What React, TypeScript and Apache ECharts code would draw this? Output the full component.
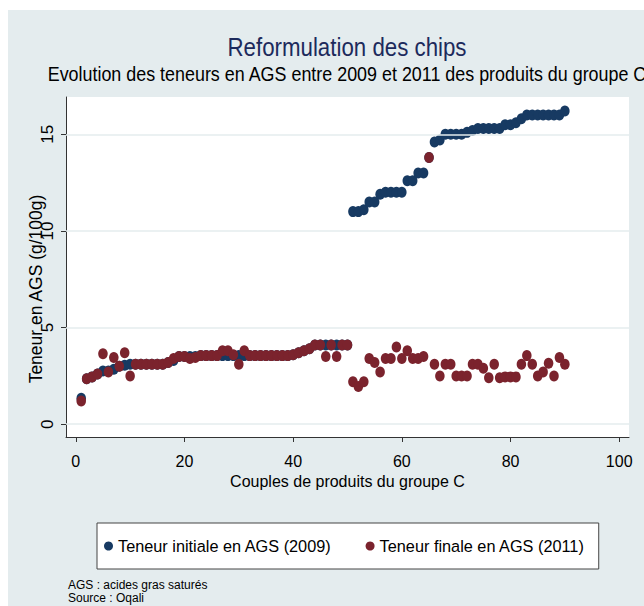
import React, { useEffect, useRef } from "react";
import * as echarts from "echarts";

const chartTitle = "Reformulation des chips";
const chartSubtitle = "Evolution des teneurs en AGS entre 2009 et 2011 des produits du groupe C";
const xAxisTitle = "Couples de produits du groupe C";
const yAxisTitle = "Teneur en AGS (g/100g)";
const footnotes = ["AGS : acides gras saturés", "Source : Oqali"];
const seriesNames = ["Teneur initiale en AGS (2009)", "Teneur finale en AGS (2011)"];

const xTicks = [0, 20, 40, 60, 80, 100];
const yTicks = [0, 5, 10, 15];

// Teneur initiale (2009), couples 1..90
const initial2009 = [
  1.35, 2.35, 2.45, 2.6, 2.75, 2.75, 2.85, 3.0, 3.05, 3.1,
  3.1, 3.1, 3.1, 3.1, 3.1, 3.1, 3.2, 3.3, 3.5, 3.5,
  3.5, 3.5, 3.55, 3.55, 3.55, 3.55, 3.55, 3.55, 3.55, 3.55,
  3.55, 3.55, 3.55, 3.55, 3.55, 3.55, 3.55, 3.55, 3.55, 3.6,
  3.7, 3.8, 3.9, 4.1, 4.1, 4.1, 4.1, 4.1, 4.1, 4.1,
  11.0, 11.0, 11.1, 11.5, 11.5, 11.9, 12.0, 12.0, 12.0, 12.0,
  12.6, 12.6, 13.0, 13.0, 13.8, 14.6, 14.7, 15.0, 15.0, 15.0,
  15.0, 15.1, 15.2, 15.3, 15.3, 15.3, 15.3, 15.3, 15.5, 15.5,
  15.6, 15.8, 16.0, 16.0, 16.0, 16.0, 16.0, 16.0, 16.0, 16.2,
];

// Teneur finale (2011), couples 1..90
const final2011 = [
  1.2, 2.35, 2.45, 2.6, 3.65, 2.7, 3.45, 3.0, 3.7, 2.5,
  3.1, 3.1, 3.1, 3.1, 3.1, 3.1, 3.2, 3.4, 3.5, 3.5,
  3.4, 3.45, 3.55, 3.55, 3.55, 3.55, 3.8, 3.8, 3.6, 3.1,
  3.8, 3.55, 3.55, 3.55, 3.55, 3.55, 3.55, 3.55, 3.55, 3.6,
  3.7, 3.8, 3.9, 4.1, 4.1, 3.5, 4.1, 3.5, 4.1, 4.1,
  2.2, 1.95, 2.2, 3.4, 3.2, 2.7, 3.4, 3.4, 4.0, 3.4,
  3.8, 3.4, 3.4, 3.5, 13.8, 3.1, 2.5, 3.1, 3.1, 2.5,
  2.5, 2.5, 3.1, 3.1, 2.9, 2.4, 3.1, 2.4, 2.45, 2.45,
  2.45, 3.1, 3.55, 3.1, 2.5, 2.7, 3.15, 2.5, 3.45, 3.1,
];

const FONT = "'Liberation Sans', Arial, sans-serif";
const BLUE = "#173a62";
const RED = "#7b232d";
const PANEL = "#e4ecee";

export default function App() {
  const ref = useRef<HTMLDivElement>(null);

  useEffect(() => {
    if (!ref.current) return;
    const chart = echarts.init(ref.current, null, { renderer: "svg" });
    const blueData = initial2009.map((v, i) => [i + 1, v]);
    const redData = final2011.map((v, i) => [i + 1, v]);

    chart.setOption({
      animation: false,
      backgroundColor: "#ffffff",
      textStyle: { fontFamily: FONT },
      graphic: [
        {
          type: "rect",
          z: -10,
          silent: true,
          shape: { x: 8, y: 10, width: 636, height: 596 },
          style: { fill: PANEL },
        },
        {
          type: "text",
          x: 347,
          y: 48,
          scaleY: 1.12,
          style: {
            text: chartTitle,
            fontSize: 22.3,
            fontFamily: FONT,
            fill: "#1c2a5c",
            textAlign: "center",
            textVerticalAlign: "middle",
          },
        },
        {
          type: "text",
          x: 347,
          y: 74,
          scaleY: 1.12,
          style: {
            text: chartSubtitle,
            fontSize: 17.9,
            fontFamily: FONT,
            fill: "#000",
            textAlign: "center",
            textVerticalAlign: "middle",
          },
        },
        {
          type: "text",
          x: 36,
          y: 289,
          rotation: Math.PI / 2,
          style: {
            text: yAxisTitle,
            fontSize: 17.5,
            fontFamily: FONT,
            fill: "#000",
            textAlign: "center",
            textVerticalAlign: "middle",
          },
        },
        {
          type: "text",
          x: 68,
          y: 585,
          style: {
            text: footnotes[0],
            fontSize: 12,
            fontFamily: FONT,
            fill: "#000",
            textAlign: "left",
            textVerticalAlign: "middle",
          },
        },
        {
          type: "text",
          x: 68,
          y: 598,
          style: {
            text: footnotes[1],
            fontSize: 12,
            fontFamily: FONT,
            fill: "#000",
            textAlign: "left",
            textVerticalAlign: "middle",
          },
        },
      ],
      grid: {
        left: 66,
        right: 15,
        top: 97,
        bottom: 169,
        show: true,
        backgroundColor: "#ffffff",
        borderWidth: 0,
        containLabel: false,
      },
      legend: {
        left: 97,
        top: 523,
        orient: "horizontal",
        icon: "circle",
        itemWidth: 9,
        itemHeight: 9,
        itemGap: 34,
        padding: [15, 14, 15, 7],
        borderColor: "#444",
        borderWidth: 1,
        backgroundColor: "#ffffff",
        textStyle: { fontSize: 16.3, color: "#000", fontFamily: FONT },
        data: seriesNames,
      },
      xAxis: {
        type: "value",
        min: -1.8,
        max: 101.8,
        name: xAxisTitle,
        nameLocation: "middle",
        nameGap: 36,
        nameTextStyle: { fontSize: 16, color: "#000", fontFamily: FONT },
        axisLine: { show: true, onZero: false, lineStyle: { color: "#333", width: 1 } },
        axisTick: { show: true, length: 5, customValues: xTicks, lineStyle: { color: "#333" } },
        axisLabel: { customValues: xTicks, fontSize: 16, color: "#000", margin: 16, fontFamily: FONT },
        splitLine: { show: false },
      },
      yAxis: {
        type: "value",
        min: -0.66,
        max: 16.93,
        axisLine: { show: true, onZero: false, lineStyle: { color: "#333", width: 1 } },
        axisTick: { show: true, length: 5, customValues: yTicks, lineStyle: { color: "#333" } },
        axisLabel: { customValues: yTicks, fontSize: 17, color: "#000", rotate: 90, margin: 10, fontFamily: FONT },
        splitLine: { show: false },
      },
      series: [
        {
          type: "line",
          data: [],
          z: 1,
          silent: true,
          markLine: {
            silent: true,
            symbol: "none",
            label: { show: false },
            lineStyle: { color: PANEL, width: 1.5, type: "solid" },
            data: yTicks.map((t) => ({ yAxis: t })),
          },
        },
        {
          name: seriesNames[0],
          type: "scatter",
          z: 3,
          symbol: "circle",
          symbolSize: [9.5, 11],
          itemStyle: { color: BLUE, opacity: 1 },
          data: blueData,
        },
        {
          name: seriesNames[1],
          type: "scatter",
          z: 4,
          symbol: "circle",
          symbolSize: [9.5, 11],
          itemStyle: { color: RED, opacity: 1 },
          data: redData,
        },
      ],
    });
    return () => chart.dispose();
  }, []);

  return (
    <div
      ref={ref}
      style={{ position: "absolute", left: 0, top: 0, width: 644, height: 606 }}
    />
  );
}
